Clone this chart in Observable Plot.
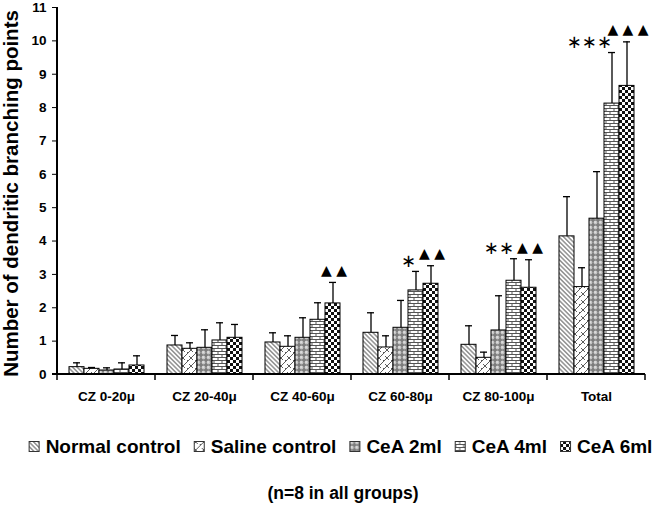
<!DOCTYPE html>
<html>
<head>
<meta charset="utf-8">
<script src="https://cdn.jsdelivr.net/npm/d3@7"></script>
<script src="https://cdn.jsdelivr.net/npm/@observablehq/plot@0.6"></script>
<style>
  html, body { margin: 0; padding: 0; background: #fff; }
  #chart svg { display: block; }
</style>
</head>
<body>
<div id="chart"></div>
<script>
// ---- data ----
const categories = ["CZ 0-20μ", "CZ 20-40μ", "CZ 40-60μ", "CZ 60-80μ", "CZ 80-100μ", "Total"];
const groups = ["Normal control", "Saline control", "CeA 2ml", "CeA 4ml", "CeA 6ml"];

const normalMean = [0.22, 0.87, 0.96, 1.25, 0.89, 4.14];
const normalSD   = [0.13, 0.30, 0.29, 0.60, 0.57, 1.19];
const salineMean = [0.17, 0.77, 0.83, 0.81, 0.50, 2.62];
const salineSD   = [0.04, 0.18, 0.33, 0.35, 0.17, 0.58];
const cea2Mean   = [0.12, 0.80, 1.10, 1.40, 1.32, 4.67];
const cea2SD     = [0.08, 0.54, 0.60, 0.82, 1.04, 1.41];
const cea4Mean   = [0.15, 1.02, 1.64, 2.52, 2.81, 8.12];
const cea4SD     = [0.20, 0.53, 0.51, 0.57, 0.66, 1.53];
const cea6Mean   = [0.27, 1.10, 2.13, 2.72, 2.60, 8.65];
const cea6SD     = [0.29, 0.40, 0.63, 0.54, 0.84, 1.32];

const yTicks = [0, 1, 2, 3, 4, 5, 6, 7, 8, 9, 10, 11];

const marksCategory = ["CZ 40-60μ", "CZ 60-80μ", "CZ 60-80μ", "CZ 80-100μ", "CZ 80-100μ", "Total", "Total"];
const marksGroup    = ["CeA 6ml", "CeA 4ml", "CeA 6ml", "CeA 4ml", "CeA 6ml", "CeA 4ml", "CeA 6ml"];
const marksLabel    = ["▲ ▲", "∗", "▲ ▲", "∗∗", "▲ ▲", "∗∗∗", "▲ ▲ ▲"];

const yTitle = "Number of dendritic branching points";
const note = "(n=8 in all groups)";

// ---- table built from arrays ----
const seriesMean = [normalMean, salineMean, cea2Mean, cea4Mean, cea6Mean];
const seriesSD = [normalSD, salineSD, cea2SD, cea4SD, cea6SD];
const rows = [];
groups.forEach((g, gi) => categories.forEach((c, ci) => {
  rows.push({category: c, group: g, mean: seriesMean[gi][ci], upper: seriesMean[gi][ci] + seriesSD[gi][ci]});
}));
const upperOf = (c, g) => rows.find(r => r.category === c && r.group === g).upper;
const annotations = marksLabel.map((l, i) => ({
  category: marksCategory[i], group: marksGroup[i], label: l,
  y: upperOf(marksCategory[i], marksGroup[i]), star: l.includes("∗")
}));

const patternIds = ["p-normal", "p-saline", "p-cea2", "p-cea4", "p-cea6"];
const patternUrls = patternIds.map(id => `url(#${id})`);

const FONT = "'Liberation Sans', Arial, sans-serif";

const chart = Plot.plot({
  width: 665,
  height: 420,
  marginLeft: 54,
  marginRight: 18,
  marginTop: 7,
  marginBottom: 46,
  style: {fontFamily: FONT, fontSize: "13.5px", fontWeight: "bold", color: "black", background: "white"},
  fx: {domain: categories, padding: 0, label: null, axis: "bottom", tickSize: 0, tickPadding: 17},
  x: {domain: groups, paddingInner: 0, paddingOuter: 0.68, axis: null},
  y: {domain: [0, 11], ticks: yTicks, tickSize: 5, tickPadding: 6, label: null, tickFormat: d3.format("d")},
  color: {type: "ordinal", domain: groups, range: patternUrls},
  marks: [
    Plot.barY(rows, {fx: "category", x: "group", y: "mean", fill: "group", stroke: "black", strokeWidth: 1}),
    Plot.ruleX(rows, {fx: "category", x: "group", y1: "mean", y2: "upper", stroke: "black", strokeWidth: 1.3}),
    Plot.tickY(rows, {fx: "category", x: "group", y: "upper", stroke: "black", strokeWidth: 1.3, insetLeft: 4, insetRight: 4}),
    Plot.text(annotations.filter(d => !d.star), {fx: "category", x: "group", y: "y", text: "label", dy: -12, dx: 1,
      fontFamily: "DejaVu Sans", fontSize: 14, fontWeight: "normal", fill: "black"}),
    Plot.text(annotations.filter(d => d.star), {fx: "category", x: "group", y: "y", text: "label", dy: -10, dx: 0,
      textAnchor: "end", fontFamily: "DejaVu Sans", fontSize: 18, fontWeight: "normal", fill: "black"})
  ]
});

const svg = d3.select(chart);
// patterns
const defs = svg.insert("defs", ":first-child");
// Normal: grey "\" stripes
let p = defs.append("pattern").attr("id", "p-normal").attr("patternUnits", "userSpaceOnUse")
  .attr("width", 3.2).attr("height", 3.2).attr("patternTransform", "rotate(-45)");
p.append("rect").attr("width", 3.2).attr("height", 3.2).attr("fill", "#fff");
p.append("line").attr("x1", 0.8).attr("y1", 0).attr("x2", 0.8).attr("y2", 3.2).attr("stroke", "#808080").attr("stroke-width", 1.3);
// Saline: zigzag diagonal "/" with short "\" ticks
p = defs.append("pattern").attr("id", "p-saline").attr("patternUnits", "userSpaceOnUse").attr("width", 8).attr("height", 8);
p.append("rect").attr("width", 8).attr("height", 8).attr("fill", "#fff");
p.append("path").attr("d", "M0,8L8,0M-1,1L1,-1M7,9L9,7M2,6L5,9M-1,3L2,6M6,0L7,1")
  .attr("stroke", "#333").attr("stroke-width", 0.8).attr("fill", "none");
// CeA 2ml: grey bubbles
p = defs.append("pattern").attr("id", "p-cea2").attr("patternUnits", "userSpaceOnUse").attr("width", 5).attr("height", 5);
p.append("rect").attr("width", 5).attr("height", 5).attr("fill", "#7c7c7c");
p.append("circle").attr("cx", 2.5).attr("cy", 2.5).attr("r", 1.9).attr("fill", "#c4c4c4");
p.append("circle").attr("cx", 2.1).attr("cy", 2.1).attr("r", 0.8).attr("fill", "#eeeeee");
// CeA 4ml: bricks
p = defs.append("pattern").attr("id", "p-cea4").attr("patternUnits", "userSpaceOnUse").attr("width", 8).attr("height", 6);
p.append("rect").attr("width", 8).attr("height", 6).attr("fill", "#fff");
p.append("path").attr("d", "M0,0.5H8M0,3.5H8M1,0.5V3.5M5,3.5V6.5").attr("stroke", "#555").attr("stroke-width", 1).attr("fill", "none");
// CeA 6ml: checkerboard
p = defs.append("pattern").attr("id", "p-cea6").attr("patternUnits", "userSpaceOnUse").attr("width", 6).attr("height", 6);
p.append("rect").attr("width", 6).attr("height", 6).attr("fill", "#fff");
p.append("rect").attr("width", 3).attr("height", 3).attr("fill", "#111");
p.append("rect").attr("x", 3).attr("y", 3).attr("width", 3).attr("height", 3).attr("fill", "#111");

// axis lines and category boundary ticks from Plot's scales
const fx = chart.scale("fx");
const y = chart.scale("y");
const y0 = y.apply(0), yTop = y.apply(d3.max(yTicks));
const bounds = categories.map(c => fx.apply(c)).concat([fx.apply(categories[categories.length - 1]) + fx.bandwidth]);
const xLeft = bounds[0], xRight = bounds[bounds.length - 1];
const ax = svg.append("g").attr("stroke", "black");
ax.append("line").attr("x1", xLeft).attr("x2", xLeft).attr("y1", yTop).attr("y2", y0).attr("stroke-width", 2);
ax.append("line").attr("x1", xLeft - 5).attr("x2", xRight).attr("y1", y0).attr("y2", y0).attr("stroke-width", 2);
bounds.forEach(b => ax.append("line").attr("x1", b).attr("x2", b).attr("y1", y0).attr("y2", y0 + 6).attr("stroke-width", 1.5));
// y title
svg.append("text").attr("transform", `translate(18,${(y0 + yTop) / 2 + 3}) rotate(-90)`)
  .attr("text-anchor", "middle").attr("font-family", FONT).attr("font-weight", "bold").attr("font-size", 20.5)
  .attr("fill", "black").text(yTitle);

document.getElementById("chart").appendChild(chart);

// legend + note
const leg = d3.select("#chart").append("svg").attr("width", 665).attr("height", 90)
  .style("font-family", FONT).style("font-weight", "bold");
let cursor = 0;
const gLeg = leg.append("g");
groups.forEach((g, i) => {
  const it = gLeg.append("g").attr("transform", `translate(${cursor},0)`);
  it.append("rect").attr("x", 0.5).attr("y", 21.5).attr("width", 10).attr("height", 10)
    .attr("fill", patternUrls[i]).attr("stroke", "#333").attr("stroke-width", 1);
  const t = it.append("text").attr("x", 17).attr("y", 33).attr("font-size", 19).attr("fill", "black").text(g);
  const w = t.node().getComputedTextLength();
  cursor += 17 + w + 13;
});
const total = cursor - 13;
gLeg.attr("transform", `translate(${(23 + 658) / 2 - total / 2},0)`);
leg.append("text").attr("x", 343).attr("y", 79).attr("text-anchor", "middle").attr("font-size", 17.5)
  .attr("fill", "black").text(note);
</script>
</body>
</html>
